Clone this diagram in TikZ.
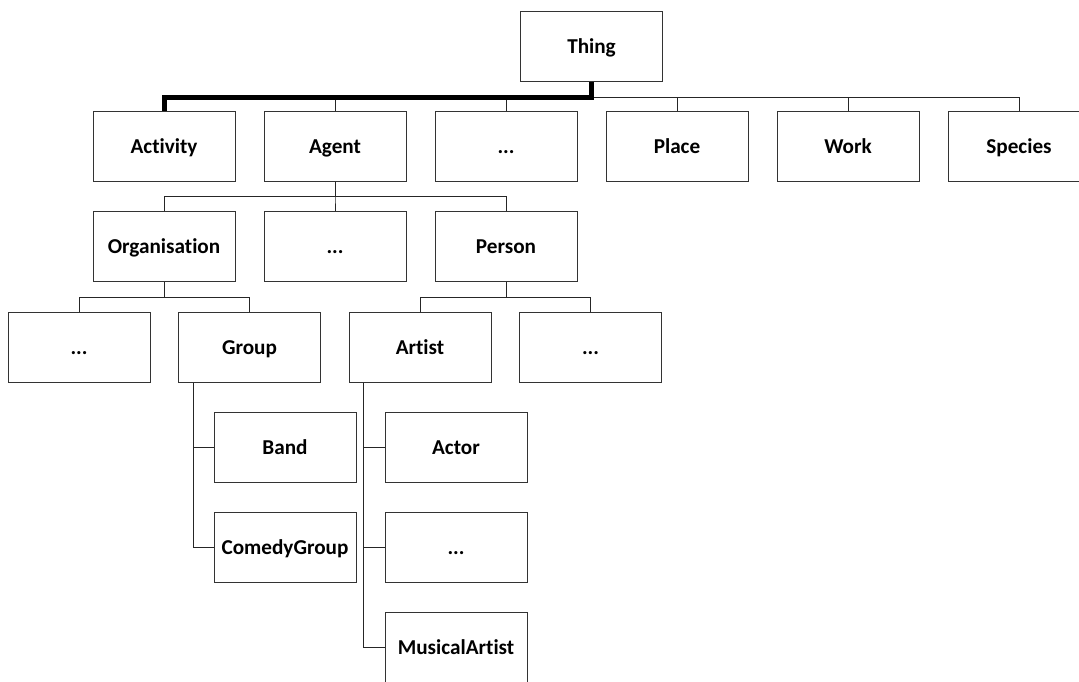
\documentclass[tikz,border=0pt]{standalone}
\usepackage{fontspec}
\setmainfont{Carlito}[Ligatures=NoCommon]
\tikzset{
    cls/.style={draw=black!80, line width=0.5pt, minimum width=71pt, minimum height=35pt,
        inner sep=0pt, text height=7pt, text depth=0pt,
        font=\fontsize{10.6}{12}\selectfont\bfseries},
    link/.style={draw=black!85, line width=0.5pt},
}
\begin{document}
\begin{tikzpicture}[x=0.5pt,y=-0.5pt]
    \useasboundingbox (0,0) rectangle (1079,681);
    \clip (0,0) rectangle (1079,681);
    % top
    \node[cls] (thing) at (591.5,46.5) {Thing};
    % first level
    \node[cls] (activity) at (164,146) {Activity};
    \node[cls] (agent) at (335,146) {Agent};
    \node[cls] (more1) at (506,146) {...};
    \node[cls] (place) at (677,146) {Place};
    \node[cls] (work) at (848,146) {Work};
    \node[cls] (species) at (1019,146) {Species};
    % agents
    \node[cls] (organisation) at (164,246.5) {Organisation};
    \node[cls] (more2) at (335,246.5) {...};
    \node[cls] (person) at (506,246.5) {Person};
    \node[cls] (more3) at (79,347) {...};
    \node[cls] (group) at (249.5,347) {Group};
    \node[cls] (artist) at (420,347) {Artist};
    \node[cls] (more4) at (590.5,347) {...};
    % leaves
    \node[cls] (band) at (285,447.5) {Band};
    \node[cls] (comedygroup) at (285,547.5) {ComedyGroup};
    \node[cls] (actor) at (456,447.5) {Actor};
    \node[cls] (more5) at (456,547.5) {...};
    \node[cls] (musicalartist) at (456,647.5) {MusicalArtist};

    \draw[link] (thing.south) -- ++(0,15) -| (agent.north);
    \draw[link] (thing.south) -- ++(0,15) -| (more1.north);
    \draw[link] (thing.south) -- ++(0,15) -| (place.north);
    \draw[link] (thing.south) -- ++(0,15) -| (work.north);
    \draw[link] (thing.south) -- ++(0,15) -| (species.north);
    \draw[draw=black, line width=2.5pt] (thing.south) -- ++(0,15) -| (activity.north);

    \draw[link] (agent.south) -- ++(0,15) -| (organisation.north);
    \draw[link] (agent.south) -- ++(0,15) -| (more2.north);
    \draw[link] (agent.south) -- ++(0,15) -| (person.north);

    \draw[link] (organisation.south) -- ++(0,15) -| (more3.north);
    \draw[link] (organisation.south) -- ++(0,15) -| (group.north);
    \draw[link] (person.south) -- ++(0,15) -| (artist.north);
    \draw[link] (person.south) -- ++(0,15) -| (more4.north);

    \draw[link] (group.south west) ++(15,0) |- (band.west);
    \draw[link] (group.south west) ++(15,0) |- (comedygroup.west);
    \draw[link] (artist.south west) ++(15,0) |- (actor.west);
    \draw[link] (artist.south west) ++(15,0) |- (more5.west);
    \draw[link] (artist.south west) ++(15,0) |- (musicalartist.west);
\end{tikzpicture}
\end{document}
